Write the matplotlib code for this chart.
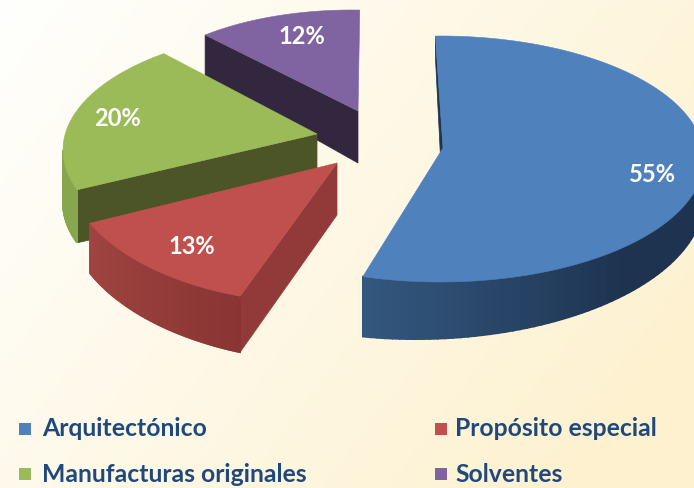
import numpy as np
import matplotlib
matplotlib.use("Agg")
import matplotlib.pyplot as plt
from matplotlib.colors import to_rgb

categories = ["Arquitectónico", "Propósito especial", "Manufacturas originales", "Solventes"]
shares = [55, 13, 20, 12]
tick_labels = ["55%", "13%", "20%", "12%"]

colors = ["#4f81bd", "#c0504d", "#9bbb59", "#8064a2"]
wall_colors = ["#1d3350", "#923a39", "#4b5527", "#33263f"]
rim_far = ["#34587f", "#a04441", "#87a64e", "#5a4675"]
rim_near = ["#1d3350", "#893533", "#87a64e", "#5a4675"]
rim_span = [60, 47, 47, 47]
apex = [(443, 148), (337, 163), (317, 134), (358, 111)]
ell_center = [(440, 159), (318, 164), (318, 150), (352, 111)]
ell_radii = [(264, 123), (252, 139), (255, 121), (223, 101)]
ang_shift = [-1, 0, 6, 2]
depth_apex = [58, 52, 55, 52]
depth_rim = [(21, 60), (56, 50), (53, 53), (42, 42)]
label_pos = [(652, 174), (192, 246), (118, 118), (302, 36)]
legend_pos = [(19, 429), (435, 429), (19, 474), (435, 474)]
legend_gap = [23, 20, 23, 20]

fig = plt.figure(figsize=(6.94, 4.88), dpi=100)
ax = fig.add_axes([0, 0, 1, 1])
ax.set_xlim(0, 694)
ax.set_ylim(488, 0)
ax.axis("off")

# background wash
gx, gy = np.meshgrid(np.linspace(0, 1, 200), np.linspace(0, 1, 140))
w = np.clip(0.72 * gx + 0.38 * gy, 0, 1)[..., None]
c0, c1 = np.array(to_rgb("#fffffd")), np.array(to_rgb("#fdf1cf"))
ax.imshow(c0 + (c1 - c0) * w, extent=(0, 694, 488, 0), aspect="auto", zorder=0)


def rim(i, t):
    r = np.radians(t + ang_shift[i])
    cx, cy = ell_center[i]
    a, b = ell_radii[i]
    return cx + a * np.sin(r), cy - b * np.cos(r)


starts = np.cumsum([0] + shares[:-1]) * 3.6
ends = np.cumsum(shares) * 3.6

# back to front so nearer solids cover farther ones
for z, i in enumerate([3, 2, 1, 0]):
    t0, t1 = starts[i], ends[i]
    ax_, ay_ = apex[i]
    d0, d1 = depth_rim[i]
    zb = 2 + z * 3

    # radial wall at the start angle
    rx, ry = rim(i, t0)
    ax.fill([ax_, rx, rx, ax_], [ay_, ry, ry + d0, ay_ + depth_apex[i]],
            color=wall_colors[i], lw=0.5, zorder=zb)

    # outer wall, front half only
    ts = np.linspace(t0, t1, 121)
    for ta, tb in zip(ts[:-1], ts[1:]):
        tm = 0.5 * (ta + tb)
        if not (90 - ang_shift[i] <= tm <= 270 - ang_shift[i]):
            continue
        xa, ya = rim(i, ta)
        xb, yb = rim(i, tb)
        da = d0 + (d1 - d0) * (ta - t0) / (t1 - t0)
        db = d0 + (d1 - d0) * (tb - t0) / (t1 - t0)
        f = np.clip((t1 - tm) / rim_span[i], 0, 1)
        col = (1 - f) * np.array(to_rgb(rim_far[i])) + f * np.array(to_rgb(rim_near[i]))
        ax.fill([xa, xb, xb, xa], [ya, yb, yb + db, ya + da],
                color=col, lw=1.2, zorder=zb + 1)

    # top face
    px, py = rim(i, ts)
    ax.fill(np.r_[ax_, px], np.r_[ay_, py], color=colors[i], lw=0.4, zorder=zb + 2)

font = "Lato"
for (lx, ly), s in zip(label_pos, tick_labels):
    ax.text(lx, ly, s, color="white", fontsize=17, fontweight="bold", family=font,
            ha="center", va="center", zorder=30)

for (lx, ly), name, c, gap in zip(legend_pos, categories, colors, legend_gap):
    ax.fill([lx, lx + 12, lx + 12, lx], [ly - 6, ly - 6, ly + 6, ly + 6], color=c, lw=0, zorder=30)
    ax.text(lx + gap, ly, name, color="#1f497d", fontsize=17.8, fontweight="bold", family=font,
            ha="left", va="center", zorder=30)

fig.savefig("out.png", dpi=100)
